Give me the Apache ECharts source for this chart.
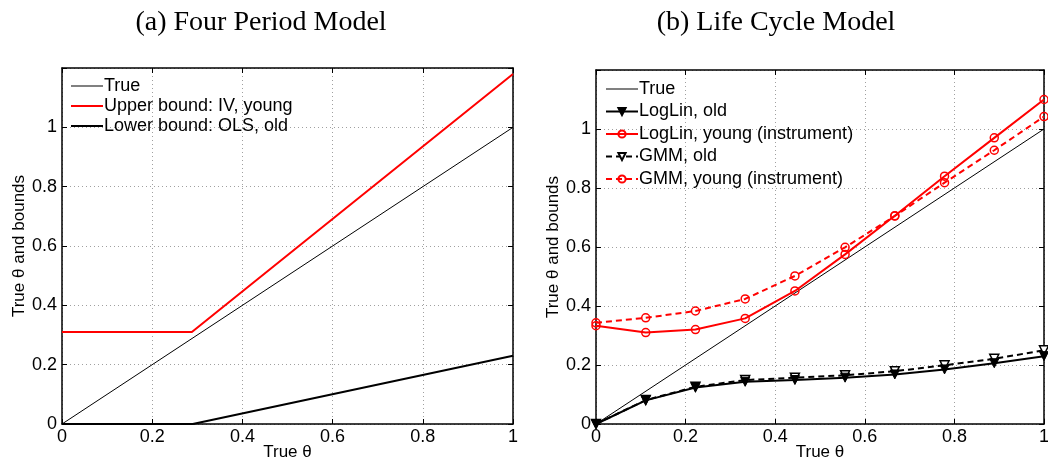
<!DOCTYPE html>
<html>
<head>
<meta charset="utf-8">
<script src="https://cdn.jsdelivr.net/npm/echarts@6/dist/echarts.min.js"></script>
<style>
  html, body { margin: 0; padding: 0; background: #fff; }
  #chart { width: 1048px; height: 463px; }
</style>
</head>
<body>
<div id="chart"></div>
<script>
// ---- Panel (a): Four Period Model ----
const trueLine = [[0, 0], [1, 1]];
const upperBoundIV = [[0, 0.31], [0.288, 0.31], [1, 1.18]];
const lowerBoundOLS = [[0, 0], [0.29, 0], [1, 0.23]];

// ---- Panel (b): Life Cycle Model ----
const theta = [0, 0.111, 0.222, 0.333, 0.444, 0.556, 0.667, 0.778, 0.889, 1];
const logLinOld = [0, 0.08, 0.124, 0.143, 0.149, 0.157, 0.168, 0.185, 0.206, 0.23];
const logLinYoung = [0.333, 0.31, 0.32, 0.358, 0.451, 0.575, 0.706, 0.84, 0.97, 1.10];
const gmmOld = [0, 0.081, 0.126, 0.149, 0.157, 0.165, 0.179, 0.199, 0.221, 0.25];
const gmmYoung = [0.343, 0.36, 0.383, 0.424, 0.502, 0.599, 0.705, 0.818, 0.928, 1.042];

const titles = ['(a) Four Period Model', '(b) Life Cycle Model'];
const legendA = ['True', 'Upper bound: IV, young', 'Lower bound: OLS, old'];
const legendB = ['True', 'LogLin, old', 'LogLin, young (instrument)', 'GMM, old', 'GMM, young (instrument)'];
const xTitle = 'True \u03b8';
const yTitle = 'True \u03b8 and bounds';

const pair = (xs, ys) => xs.map((x, i) => [x, ys[i]]);

const SANS = '"Liberation Sans", Arial, Helvetica, sans-serif';
const SERIF = '28px "Liberation Serif", "Times New Roman", serif';
const RED = '#ff0000';
const BLACK = '#000000';

// plain stroke icons for legend entries without markers (aspect kept: thin bar)
const THIN_ICON = 'path://M0,0 H32 V1 H0 Z';
const THICK_ICON = 'path://M0,0 H16 V1 H0 Z';

const frameLine = { show: true, onZero: false, lineStyle: { color: BLACK, width: 1.5 } };
const gridLine = { show: true, lineStyle: { color: '#a0a0a0', type: [1, 3], width: 1 } };
const tickIn = { show: true, inside: true, length: 5, lineStyle: { color: BLACK, width: 1 } };

function bottomX(gi) {
  return {
    gridIndex: gi, type: 'value', position: 'bottom', min: 0, max: 1, interval: 0.2,
    axisLine: frameLine, axisTick: tickIn, splitLine: gridLine,
    axisLabel: { color: BLACK, fontFamily: SANS, fontSize: 18, margin: 4 },
    name: xTitle, nameLocation: 'middle', nameGap: 20, nameMoveOverlap: false,
    nameTextStyle: { color: BLACK, fontFamily: SANS, fontSize: 17 }
  };
}
function topX(gi) {
  return {
    gridIndex: gi, type: 'value', position: 'top', min: 0, max: 1, interval: 0.2,
    axisLine: frameLine, axisTick: tickIn, splitLine: { show: false }, axisLabel: { show: false }
  };
}
function leftY(gi) {
  return {
    gridIndex: gi, type: 'value', position: 'left', min: 0, max: 1.2, interval: 0.2,
    axisLine: frameLine, axisTick: tickIn, splitLine: gridLine,
    axisLabel: {
      color: BLACK, fontFamily: SANS, fontSize: 18, margin: 5,
      formatter: v => (v > 1.1 ? '' : String(+v.toFixed(1)))
    },
    name: yTitle, nameLocation: 'middle', nameGap: 34, nameRotate: 90, nameMoveOverlap: false,
    nameTextStyle: { color: BLACK, fontFamily: SANS, fontSize: 17 }
  };
}
function rightY(gi) {
  return {
    gridIndex: gi, type: 'value', position: 'right', min: 0, max: 1.2, interval: 0.2,
    axisLine: frameLine, axisTick: tickIn, splitLine: { show: false }, axisLabel: { show: false }
  };
}

function lineSeries(name, data, xi, yi, opts) {
  return Object.assign({
    name, type: 'line', data, xAxisIndex: xi, yAxisIndex: yi,
    showSymbol: false, symbol: 'none', animation: false, z: 3
  }, opts);
}

const legendText = { color: BLACK, fontFamily: SANS, fontSize: 18, padding: [0, 0, 0, -4] };

const option = {
  animation: false,
  backgroundColor: '#fff',
  grid: [
    { left: 62, top: 68, width: 451, height: 356, outerBoundsMode: 'none', containLabel: false },
    { left: 596, top: 70, width: 448, height: 354, outerBoundsMode: 'none', containLabel: false }
  ],
  xAxis: [bottomX(0), topX(0), bottomX(1), topX(1)],
  yAxis: [leftY(0), rightY(0), leftY(1), rightY(1)],
  legend: [
    {
      data: [
        { name: legendA[0], icon: THIN_ICON },
        { name: legendA[1], icon: THICK_ICON },
        { name: legendA[2], icon: THICK_ICON }
      ],
      orient: 'vertical', left: 71, top: 77, itemGap: 2,
      itemWidth: 32, itemHeight: 16, padding: 0, textStyle: legendText
    },
    {
      data: [
        { name: legendB[0], icon: THIN_ICON },
        legendB[1], legendB[2], legendB[3], legendB[4]
      ],
      orient: 'vertical', left: 605, top: 80, itemGap: 4.5,
      itemWidth: 32, itemHeight: 9, padding: 0, textStyle: legendText
    }
  ],
  graphic: [
    { type: 'text', x: 261, y: 23, style: { text: titles[0], fill: BLACK, font: SERIF, textAlign: 'center', textVerticalAlign: 'middle' } },
    { type: 'text', x: 776, y: 23, style: { text: titles[1], fill: BLACK, font: SERIF, textAlign: 'center', textVerticalAlign: 'middle' } }
  ],
  series: [
    // panel (a)
    lineSeries('True', trueLine, 0, 0, { color: BLACK, lineStyle: { color: BLACK, width: 1 }, itemStyle: { color: BLACK } }),
    lineSeries('Upper bound: IV, young', upperBoundIV, 0, 0, { color: RED, lineStyle: { color: RED, width: 2 }, itemStyle: { color: RED } }),
    lineSeries('Lower bound: OLS, old', lowerBoundOLS, 0, 0, { color: BLACK, lineStyle: { color: BLACK, width: 2 }, itemStyle: { color: BLACK } }),
    // panel (b)
    lineSeries('True', trueLine, 2, 2, { color: BLACK, lineStyle: { color: BLACK, width: 1 }, itemStyle: { color: BLACK } }),
    lineSeries('GMM, old', pair(theta, gmmOld), 2, 2, {
      symbol: 'triangle', symbolRotate: 180, symbolSize: 9, showSymbol: true,
      lineStyle: { color: BLACK, width: 2, type: [6, 4] },
      itemStyle: { color: '#fff', borderColor: BLACK, borderWidth: 1.5 }
    }),
    lineSeries('LogLin, old', pair(theta, logLinOld), 2, 2, {
      symbol: 'triangle', symbolRotate: 180, symbolSize: 9, showSymbol: true,
      lineStyle: { color: BLACK, width: 2 },
      itemStyle: { color: BLACK, borderColor: BLACK, borderWidth: 1 }
    }),
    lineSeries('GMM, young (instrument)', pair(theta, gmmYoung), 2, 2, {
      symbol: 'circle', symbolSize: 8, showSymbol: true,
      lineStyle: { color: RED, width: 2, type: [6, 4] },
      itemStyle: { color: 'rgba(255,255,255,0)', borderColor: RED, borderWidth: 1.5 }
    }),
    lineSeries('LogLin, young (instrument)', pair(theta, logLinYoung), 2, 2, {
      symbol: 'circle', symbolSize: 8, showSymbol: true,
      lineStyle: { color: RED, width: 2 },
      itemStyle: { color: 'rgba(255,255,255,0)', borderColor: RED, borderWidth: 1.5 }
    })
  ]
};

const chart = echarts.init(document.getElementById('chart'), null, { renderer: 'canvas' });
chart.setOption(option);
</script>
</body>
</html>
